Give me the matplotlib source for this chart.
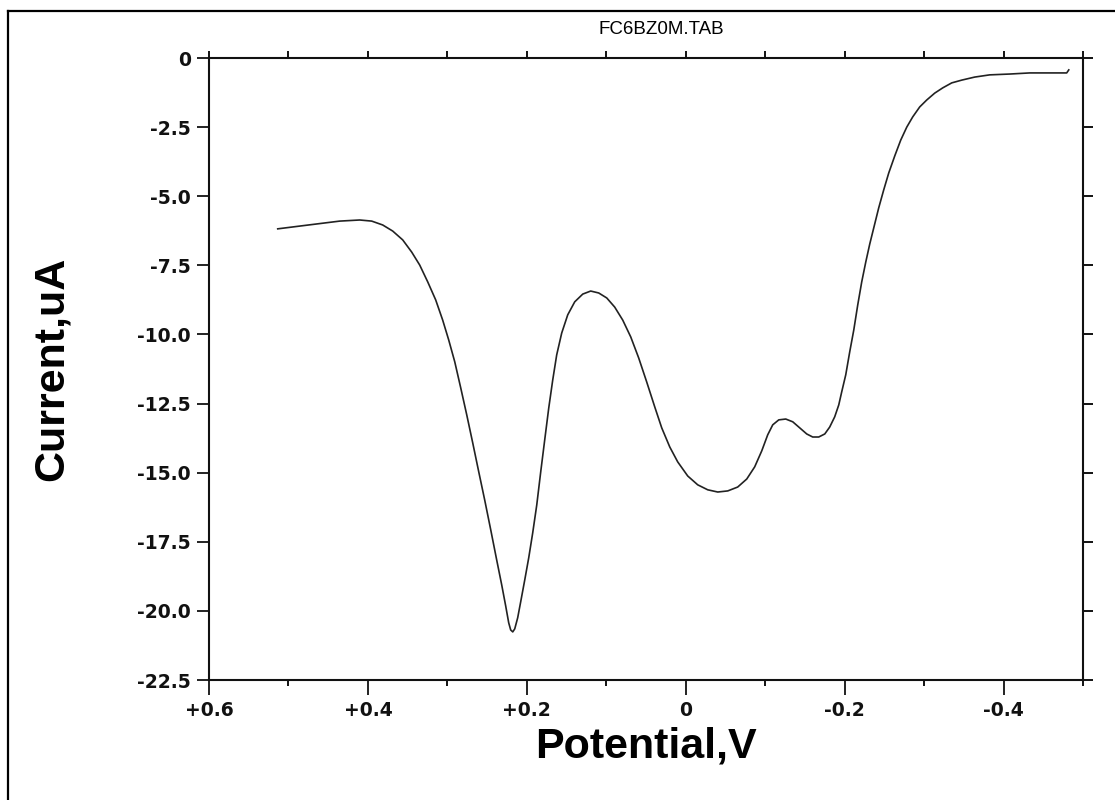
import matplotlib
matplotlib.use("Agg")
import matplotlib.pyplot as plt
from matplotlib.lines import Line2D

# Data
potential = [0.5135, 0.4858, 0.4607, 0.4355, 0.4103, 0.3952, 0.3814, 0.3688, 0.3562, 0.3449,
             0.3348, 0.3247, 0.3147, 0.3059, 0.2983, 0.2907, 0.2832, 0.2756, 0.2681, 0.2605,
             0.2530, 0.2454, 0.2379, 0.2316, 0.2266, 0.2228, 0.2203, 0.2177, 0.2152, 0.2115,
             0.2077, 0.2026, 0.1976, 0.1926, 0.1875, 0.1825, 0.1775, 0.1724, 0.1674, 0.1624,
             0.1561, 0.1485, 0.1397, 0.1296, 0.1196, 0.1095, 0.0994, 0.0894, 0.0793, 0.0692,
             0.0592, 0.0491, 0.0390, 0.0302, 0.0201, 0.0101, -0.0025, -0.0151, -0.0277, -0.0403,
             -0.0529, -0.0654, -0.0768, -0.0868, -0.0957, -0.1032, -0.1095, -0.1171, -0.1259, -0.1347,
             -0.1435, -0.1523, -0.1598, -0.1674, -0.1750, -0.1812, -0.1875, -0.1926, -0.1963, -0.2014,
             -0.2064, -0.2115, -0.2165, -0.2215, -0.2266, -0.2316, -0.2366, -0.2429, -0.2492, -0.2555,
             -0.2631, -0.2706, -0.2782, -0.2857, -0.2945, -0.3033, -0.3134, -0.3235, -0.3348, -0.3474,
             -0.3637, -0.3826, -0.4078, -0.4330, -0.4795, -0.4821]
current = [-6.18, -6.08, -5.99, -5.90, -5.86, -5.90, -6.04, -6.26, -6.58, -7.02,
           -7.49, -8.10, -8.75, -9.48, -10.20, -10.99, -11.93, -12.91, -13.92, -14.97,
           -15.99, -17.07, -18.16, -19.06, -19.82, -20.43, -20.69, -20.76, -20.65, -20.25,
           -19.67, -18.88, -18.08, -17.18, -16.17, -14.97, -13.82, -12.66, -11.65, -10.74,
           -9.95, -9.29, -8.82, -8.54, -8.43, -8.50, -8.68, -9.01, -9.48, -10.09,
           -10.85, -11.72, -12.62, -13.38, -14.07, -14.61, -15.12, -15.44, -15.62, -15.70,
           -15.66, -15.52, -15.23, -14.79, -14.21, -13.63, -13.27, -13.09, -13.06, -13.16,
           -13.38, -13.60, -13.71, -13.71, -13.60, -13.35, -12.98, -12.55, -12.08, -11.46,
           -10.63, -9.84, -8.93, -8.10, -7.38, -6.73, -6.15, -5.42, -4.77, -4.16,
           -3.54, -2.97, -2.50, -2.13, -1.77, -1.52, -1.27, -1.08, -0.90, -0.80,
           -0.69, -0.61, -0.58, -0.54, -0.54, -0.43]

x_ticks = [0.6, 0.4, 0.2, 0.0, -0.2, -0.4]
x_tick_labels = ["+0.6", "+0.4", "+0.2", "0", "-0.2", "-0.4"]
x_minor = [0.5, 0.3, 0.1, -0.1, -0.3, -0.5]
top_ticks = [0.6, 0.5, 0.4, 0.3, 0.2, 0.1, 0.0, -0.1, -0.2, -0.3, -0.4, -0.5]
y_ticks = [0, -2.5, -5.0, -7.5, -10.0, -12.5, -15.0, -17.5, -20.0, -22.5]
y_tick_labels = ["0", "-2.5", "-5.0", "-7.5", "-10.0", "-12.5", "-15.0", "-17.5", "-20.0", "-22.5"]

title = "FC6BZ0M.TAB"
xlabel = "Potential,V"
ylabel = "Current,uA"

W, H = 1115, 800
fig = plt.figure(figsize=(W / 100, H / 100), dpi=100)
fig.patch.set_facecolor("white")

L, R, T, B = 209, 1083, 58, 680
ax = fig.add_axes([L / W, 1 - B / H, (R - L) / W, (B - T) / H])
ax.plot(potential, current, color="#222222", lw=1.2, solid_joinstyle="round")
ax.set_xlim(0.6, -0.5)
ax.set_ylim(-22.5, 0)

for s in ax.spines.values():
    s.set_linewidth(1.5)
    s.set_color("#111111")

tick_font = dict(family="DejaVu Sans", weight="bold", size=13.5)
ax.set_xticks(x_ticks)
ax.set_xticklabels(x_tick_labels, **tick_font)
ax.set_xticks(x_minor, minor=True)
ax.set_yticks(y_ticks)
ax.set_yticklabels(y_tick_labels, **tick_font)
ax.tick_params(axis="x", which="major", direction="out", length=11, width=1.3, pad=4, colors="#111111")
ax.tick_params(axis="x", which="minor", direction="out", length=4.5, width=1.3)
ax.tick_params(axis="y", which="major", direction="out", length=9, width=1.3, pad=4, colors="#111111")

top = ax.secondary_xaxis("top")
top.set_xticks(top_ticks)
top.set_xticklabels([])
top.tick_params(direction="out", length=5, width=1.3)
top.spines["top"].set_visible(False)

right = ax.secondary_yaxis("right")
right.set_yticks(y_ticks)
right.set_yticklabels([])
right.tick_params(direction="out", length=7.5, width=1.3)
right.spines["right"].set_visible(False)

fig.text(661 / W, 1 - 30 / H, title, ha="center", va="center",
         family="Liberation Sans", size=13.5)
fig.text((L + R) / 2 / W, 1 - 746 / H, xlabel, ha="center", va="center",
         family="Liberation Sans", weight="bold", size=31)
fig.text(52 / W, 1 - ((T + B) / 2) / H, ylabel, ha="center", va="center",
         rotation=90, family="Liberation Sans", weight="bold", size=31)

# outer frame (left and top edges visible)
fx, fy = 8 / W, 1 - 11 / H
fig.add_artist(Line2D([fx, fx], [fy, 0], transform=fig.transFigure, color="black", lw=1.6))
fig.add_artist(Line2D([fx, 1], [fy, fy], transform=fig.transFigure, color="black", lw=1.6))

fig.savefig("out.png", dpi=100, facecolor="white")
